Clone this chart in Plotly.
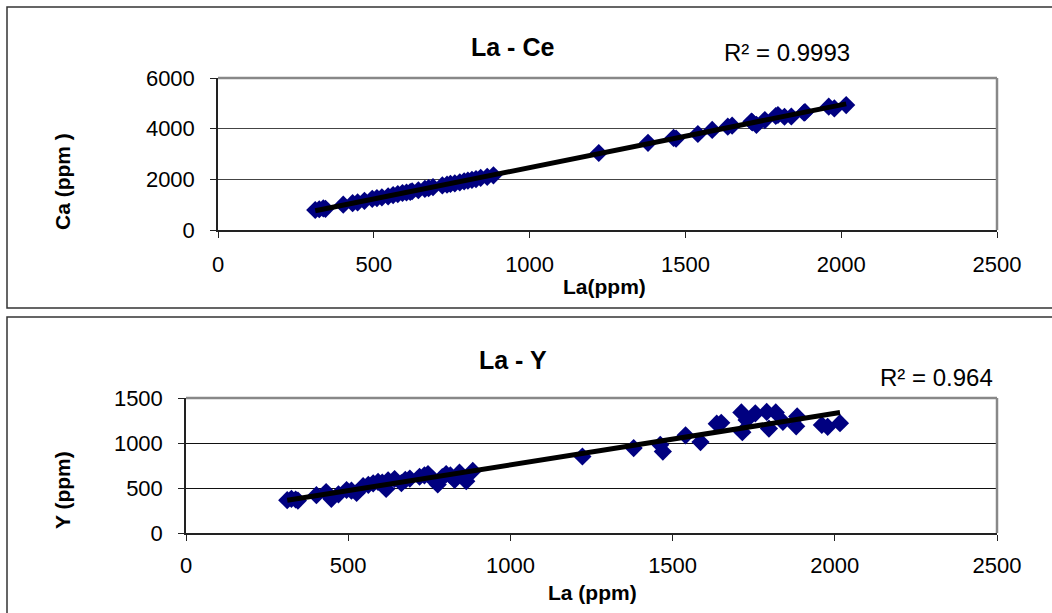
import numpy as np
import plotly.graph_objects as go

# La vs Ce / Y values (ppm)
la = [312, 325, 338, 345, 402, 432, 448, 470, 495, 510, 526, 546, 562, 577, 592,
      605, 617, 623, 643, 664, 676, 690, 720, 735, 746, 760, 776, 790, 802, 815,
      828, 843, 864, 884, 1222, 1380, 1462, 1470, 1540, 1586, 1636, 1650, 1712,
      1715, 1728, 1755, 1790, 1797, 1818, 1840, 1881, 1884, 1960, 1978, 2016]
ce = [790, 820, 850, 835, 1000, 1060, 1090, 1150, 1230, 1260, 1290, 1330, 1380, 1420, 1460,
      1480, 1500, 1530, 1570, 1620, 1650, 1690, 1760, 1790, 1820, 1840, 1880, 1920, 1950, 1980,
      2010, 2060, 2100, 2160, 3040, 3440, 3640, 3610, 3790, 3950, 4080, 4120, 4280,
      4250, 4150, 4340, 4500, 4540, 4470, 4480, 4630, 4650, 4870, 4800, 4930]
y_ppm = [365, 380, 372, 360, 420, 455, 380, 430, 478, 470, 445, 520, 535, 552, 568,
         560, 490, 585, 600, 555, 590, 605, 625, 640, 655, 600, 540, 620, 655, 640,
         590, 670, 575, 690, 850, 944, 980, 905, 1085, 1010, 1215, 1225, 1340,
         1120, 1255, 1330, 1345, 1160, 1340, 1235, 1185, 1295, 1200, 1180, 1220]

x_ticks = [0, 500, 1000, 1500, 2000, 2500]
ce_ticks = [0, 2000, 4000, 6000]
y_ticks = [0, 500, 1000, 1500]

W, H = 1052, 613
FONT = "Liberation Sans, Arial, sans-serif"
NAVY = "#000080"


def px(x):
    return x / W


def py(y):
    return 1 - y / H


# linear trendlines (least squares, like Excel)
la_arr = np.array(la, dtype=float)
fit_line = np.array([la_arr.min(), la_arr.max()])
k1, b1 = np.polyfit(la_arr, ce, 1)
k2, b2 = np.polyfit(la_arr, y_ppm, 1)

fig = go.Figure()
fig.add_trace(go.Scatter(x=la, y=ce, mode="markers", xaxis="x", yaxis="y",
                         marker=dict(symbol="diamond", size=14, color=NAVY, line=dict(width=0))))
fig.add_trace(go.Scatter(x=fit_line, y=k1 * fit_line + b1, mode="lines", xaxis="x", yaxis="y",
                         line=dict(color="black", width=5)))
fig.add_trace(go.Scatter(x=la, y=y_ppm, mode="markers", xaxis="x2", yaxis="y2",
                         marker=dict(symbol="diamond", size=14, color=NAVY, line=dict(width=0))))
fig.add_trace(go.Scatter(x=fit_line, y=k2 * fit_line + b2, mode="lines", xaxis="x2", yaxis="y2",
                         line=dict(color="black", width=5)))

axis_common = dict(showline=True, linecolor="#222222", linewidth=1.5, ticks="outside",
                   ticklen=6, tickcolor="#222222", zeroline=False, automargin=False,
                   tickfont=dict(family=FONT, size=22, color="black"))

fig.update_layout(
    width=W, height=H, autosize=False,
    margin=dict(l=0, r=0, t=0, b=0, pad=0),
    paper_bgcolor="white", plot_bgcolor="white",
    showlegend=False,
    font=dict(family=FONT, color="black"),
    xaxis=dict(domain=[px(218), px(997)], range=[0, 2500], tickvals=x_ticks,
               showgrid=False, anchor="y", ticklabelstandoff=8, **axis_common),
    yaxis=dict(domain=[py(230), py(78)], range=[0, 6000], tickvals=ce_ticks,
               showgrid=True, gridcolor="#444444", gridwidth=1, anchor="x",
               ticklabelstandoff=11, **axis_common),
    xaxis2=dict(domain=[px(186), px(997)], range=[0, 2500], tickvals=x_ticks,
                showgrid=False, anchor="y2", ticklabelstandoff=6, **axis_common),
    yaxis2=dict(domain=[py(533), py(398)], range=[0, 1500], tickvals=y_ticks,
                showgrid=True, gridcolor="#111111", gridwidth=1, anchor="x2",
                ticklabelstandoff=11, **axis_common),
)

shapes = [
    # outer chart boxes
    dict(type="rect", xref="paper", yref="paper", x0=px(7), x1=px(1060), y0=py(308), y1=py(7),
         line=dict(color="#333333", width=1.5)),
    dict(type="rect", xref="paper", yref="paper", x0=px(7), x1=px(1060), y0=py(625), y1=py(317),
         line=dict(color="#333333", width=1.5)),
]
# grey top / right borders of the plot areas
for xa, ya in (("x", "y"), ("x2", "y2")):
    shapes.append(dict(type="line", xref=xa + " domain", yref=ya + " domain", x0=0, x1=1, y0=1, y1=1,
                       line=dict(color="#888888", width=2.5), layer="above"))
    shapes.append(dict(type="line", xref=xa + " domain", yref=ya + " domain", x0=1, x1=1, y0=0, y1=1,
                       line=dict(color="#888888", width=2.5), layer="above"))
fig.update_layout(shapes=shapes)

title_font = dict(family=FONT, size=25, color="black")
label_font = dict(family=FONT, size=21, color="black")
notes = [
    ("<b>La - Ce</b>", 512, 47, 0, title_font),
    ("<b>La - Y</b>", 513, 360, 0, title_font),
    ("<b>La(ppm)</b>", 604, 287, 0, label_font),
    ("<b>La (ppm)</b>", 592, 592, 0, label_font),
    ("<b>Ca (ppm )</b>", 62, 182, -90, label_font),
    ("<b>Y (ppm)</b>", 62, 490, -90, label_font),
]
for text, x, y, ang, f in notes:
    fig.add_annotation(text=text, xref="paper", yref="paper", x=px(x), y=py(y),
                       showarrow=False, textangle=ang, font=f,
                       xanchor="center", yanchor="middle")
fig.add_annotation(text="R² = 0.9993", xref="paper", yref="paper", x=px(852), y=py(52),
                   xanchor="right", yanchor="middle", showarrow=False,
                   font=dict(family=FONT, size=24, color="black"))
fig.add_annotation(text="R² = 0.964", xref="paper", yref="paper", x=px(995), y=py(377),
                   xanchor="right", yanchor="middle", showarrow=False,
                   font=dict(family=FONT, size=24, color="black"))

fig.write_html("out.html", config={"displayModeBar": False},
               post_script="document.body.style.margin='0';")
